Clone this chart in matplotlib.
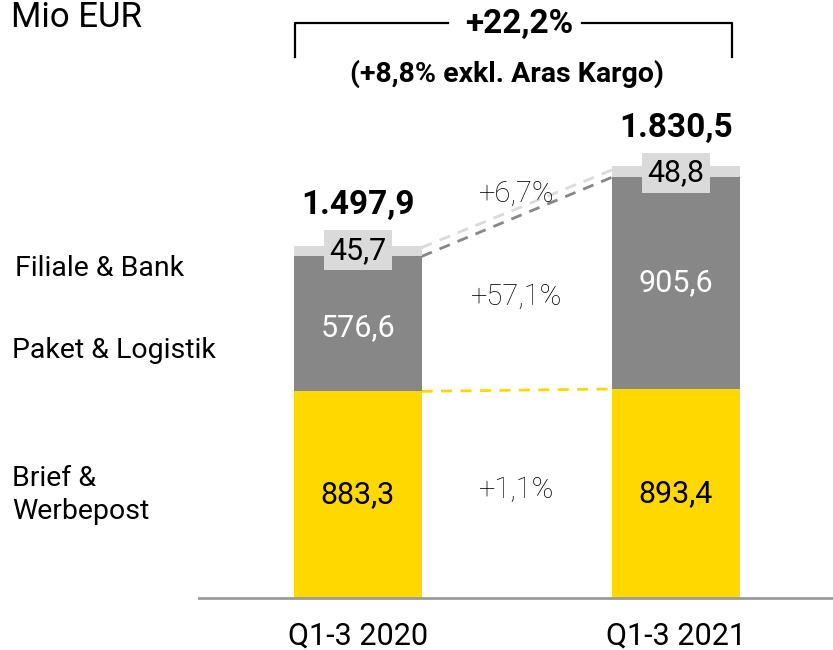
import matplotlib
matplotlib.use("Agg")
import matplotlib.pyplot as plt

# ---- data ----
periods = ["Q1-3 2020", "Q1-3 2021"]
brief = [883.3, 893.4]
paket = [576.6, 905.6]
filiale = [45.7, 48.8]
totals = [1497.9, 1830.5]
brief_lbl = ["883,3", "893,4"]
paket_lbl = ["576,6", "905,6"]
filiale_lbl = ["45,7", "48,8"]
total_lbl = ["1.497,9", "1.830,5"]
growth_lbl = ["+1,1%", "+57,1%", "+6,7%"]
segments = ["Brief &\nWerbepost", "Paket & Logistik", "Filiale & Bank"]
head_lbl = "+22,2%"
sub_lbl = "(+8,8% exkl. Aras Kargo)"
unit_lbl = "Mio EUR"

YELLOW = "#FFD800"
GRAY = "#878787"
LGRAY = "#DADADA"

plt.rcParams['font.family'] = ['Roboto', 'DejaVu Sans']

fig = plt.figure(figsize=(8.33, 6.5), dpi=100)
W, H = 833, 650
base_px = 598
ax = fig.add_axes([199 / W, (H - base_px) / H, 1 - 199 / W, base_px / H])
ax.set_xlim(-0.5, 1.494)
ax.set_ylim(0, 2556)

x = [0, 1]
bw = 0.40
ax.bar(x, brief, bw, color=YELLOW, zorder=2)
ax.bar(x, paket, bw, bottom=brief, color=GRAY, zorder=2)
b2 = [a + b for a, b in zip(brief, paket)]
ax.bar(x, filiale, bw, bottom=b2, color=LGRAY, zorder=2)

for s in ["top", "right", "left"]:
    ax.spines[s].set_visible(False)
ax.spines["bottom"].set_color("#9a9a9a")
ax.spines["bottom"].set_linewidth(2)
ax.set_yticks([])
ax.set_xticks(x)
ax.set_xticklabels(periods, fontsize=22)
ax.tick_params(axis="x", length=0, pad=17)

# connecting dashed lines
xl, xr = x[0] + bw / 2, x[1] - bw / 2
ax.plot([xl, xr], [brief[0], brief[1]], ls=(0, (4, 3)), color=YELLOW, lw=2, zorder=1)
ax.plot([xl, xr], [b2[0], b2[1]], ls=(0, (4, 3)), color=GRAY, lw=2, zorder=1)
ax.plot([xl, xr], [totals[0], totals[1]], ls=(0, (4, 3)), color=LGRAY, lw=2, zorder=1)

for i in range(2):
    ax.text(x[i], brief[i] / 2, brief_lbl[i], ha="center", va="center", fontsize=22, color="black")
    ax.text(x[i], brief[i] + paket[i] / 2 + (-15 if i == 0 else 0), paket_lbl[i], ha="center", va="center",
            fontsize=22, color="white")
    ax.text(x[i], totals[i] - 12, filiale_lbl[i], ha="center", va="center", fontsize=22, color="black",
            zorder=3, bbox=dict(boxstyle="square,pad=0.18", fc=LGRAY, ec="none"))
    ax.text(x[i], totals[i] + 180, total_lbl[i], ha="center", va="center",
            fontsize=24, fontweight="bold", color="black")

xm = 0.5
ax.text(xm, brief[0] / 2 + 20, growth_lbl[0], ha="center", va="center", fontsize=21,
        fontweight="light", color="black")
ax.text(xm, 1285, growth_lbl[1], ha="center", va="center", fontsize=21,
        fontweight="light", color="black")
ax.text(xm, 1725, growth_lbl[2], ha="center", va="center", fontsize=21,
        fontweight="light", color="black")

# bracket on top (figure pixel coordinates)
def fx(px):
    return px / W

def fy(py):
    return 1 - py / H

fig.add_artist(plt.Line2D([fx(295), fx(295), fx(448)], [fy(57), fy(23), fy(23)], color="black", lw=1.6))
fig.add_artist(plt.Line2D([fx(582), fx(732), fx(732)], [fy(23), fy(23), fy(57)], color="black", lw=1.6))
fig.text(fx(519), fy(24), head_lbl, ha="center", va="center", fontsize=24, fontweight="bold")
fig.text(fx(507), fy(74), sub_lbl, ha="center", va="center", fontsize=20.5, fontweight="bold")
fig.text(fx(11), fy(1), unit_lbl, ha="left", va="top", fontsize=25)

fig.text(fx(15), fy(268), segments[2], ha="left", va="center", fontsize=20.5)
fig.text(fx(12), fy(350), segments[1], ha="left", va="center", fontsize=20.5)
fig.text(fx(12), fy(495), segments[0], ha="left", va="center", fontsize=20.5, linespacing=1.25)

fig.savefig("out.png", dpi=100)
